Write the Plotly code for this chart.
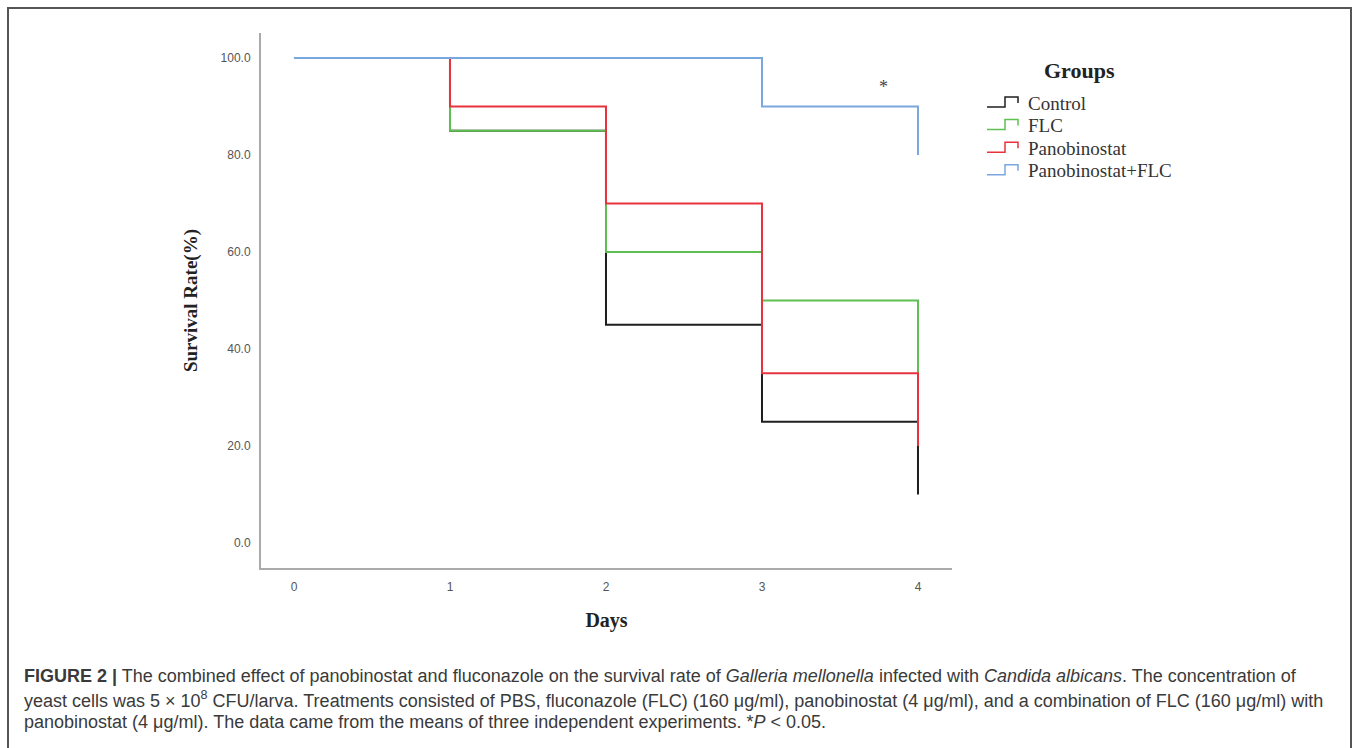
import plotly.graph_objects as go

days = [0, 1, 2, 3, 4]
groups = ["Control", "FLC", "Panobinostat", "Panobinostat+FLC"]
control = [100, 85, 45, 25, 10]
flc = [100, 85, 60, 50, 35]
panobinostat = [100, 90, 70, 35, 20]
pano_flc = [100, 100, 100, 90, 80]
colors = ["#1f1f1f", "#5fbf52", "#e8333f", "#7ba7e0"]
y_ticks = [0, 20, 40, 60, 80, 100]
x_ticks = [0, 1, 2, 3, 4]

series = [control, flc, panobinostat, pano_flc]

W, H = 1358, 748
L, R, T, B = 261, 406, 33, 180
PW, PH = W - L - R, H - T - B


def px(x):
    return (x - L) / PW


def py(y):
    return (H - B - y) / PH


fig = go.Figure()
for name, vals, col in zip(groups, series, colors):
    fig.add_trace(go.Scatter(
        x=days, y=vals, name=name, mode="lines", showlegend=False,
        line=dict(shape="hv", color=col, width=2),
    ))

serif = "Liberation Serif, Times New Roman, serif"
sans = "Liberation Sans, Arial, sans-serif"

fig.update_layout(
    width=W, height=H,
    margin=dict(l=L, r=R, t=T, b=B),
    paper_bgcolor="white", plot_bgcolor="white",
    showlegend=False,
    xaxis=dict(
        range=[-0.2115, 4.218], tickvals=x_ticks,
        showgrid=False, zeroline=False,
        showline=True, linecolor="#aaaaaa", linewidth=2,
        ticks="", ticklabelstandoff=7,
        tickfont=dict(family=sans, size=12, color="#555"),
        title=dict(text="<b>Days</b>", standoff=20,
                   font=dict(family=serif, size=20, color="#222")),
    ),
    yaxis=dict(
        range=[-5.15, 105.15], tickvals=y_ticks, tickformat=".1f",
        showgrid=False, zeroline=False,
        showline=True, linecolor="#aaaaaa", linewidth=2,
        ticks="", ticklabelstandoff=6,
        tickfont=dict(family=sans, size=12, color="#555"),
        title=dict(text="<b>Survival Rate(%)</b>", standoff=18,
                   font=dict(family=serif, size=19, color="#222")),
    ),
)

# significance star
fig.add_annotation(x=3.78, y=94, xref="x", yref="y", text="*", showarrow=False,
                   font=dict(family=serif, size=18, color="#444"))

# legend (drawn manually to reproduce the step-shaped glyphs)
fig.add_annotation(x=px(1079), y=py(70), xref="paper", yref="paper",
                   xanchor="center", yanchor="middle", showarrow=False,
                   text="<b>Groups</b>", font=dict(family=serif, size=22, color="#222"))
for i, (name, col) in enumerate(zip(groups, colors)):
    yc = 103 + 22.6 * i
    path = (f"M {px(987)},{py(yc + 4)} L {px(1005)},{py(yc + 4)} "
            f"L {px(1005)},{py(yc - 6)} L {px(1018)},{py(yc - 6)} L {px(1018)},{py(yc)}")
    fig.add_shape(type="path", xref="paper", yref="paper", path=path,
                  line=dict(color=col, width=1.5))
    fig.add_annotation(x=px(1026), y=py(yc), xref="paper", yref="paper",
                       xanchor="left", yanchor="middle", showarrow=False,
                       text=name, font=dict(family=serif, size=19, color="#333"))

# outer frame
fig.add_shape(type="rect", xref="paper", yref="paper",
              x0=px(8), x1=px(1351), y0=py(760), y1=py(8),
              line=dict(color="#555555", width=2), fillcolor="rgba(0,0,0,0)", layer="below")

cap_font = dict(family=sans, size=18, color="#3a3a3a")
captions = [
    "<b>FIGURE 2 |</b> The combined effect of panobinostat and fluconazole on the survival rate of "
    "<i>Galleria mellonella</i> infected with <i>Candida albicans</i>. The concentration of",
    "yeast cells was 5 × 10<sup>8</sup> CFU/larva. Treatments consisted of PBS, fluconazole (FLC) (160 μg/ml), "
    "panobinostat (4 μg/ml), and a combination of FLC (160 μg/ml) with",
    "panobinostat (4 μg/ml). The data came from the means of three independent experiments. *<i>P</i> &lt; 0.05.",
]
for i, txt in enumerate(captions):
    yc = 676 + 23 * i
    fig.add_annotation(x=px(22), y=py(yc), xref="paper", yref="paper",
                       xanchor="left", yanchor="middle", align="left", showarrow=False,
                       text=txt, font=cap_font)

fig.write_html("out.html")
